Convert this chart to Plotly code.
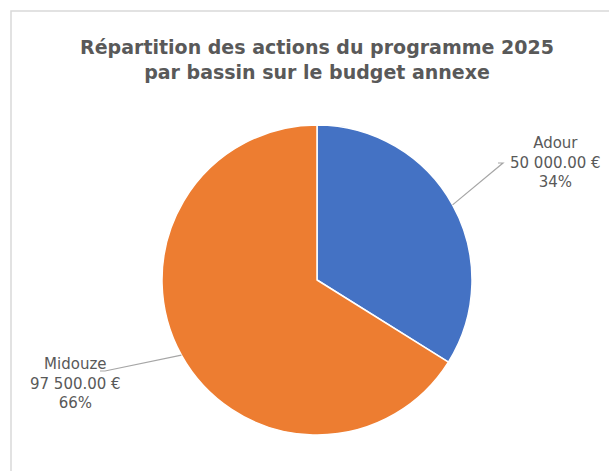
import math
import plotly.graph_objects as go

labels = ["Adour", "Midouze"]
values = [50000.00, 97500.00]
colors = ["#4472C4", "#ED7D31"]
value_text = ["50 000.00 €", "97 500.00 €"]

W, H = 609, 471
cx, cy, r = 317, 280, 155  # pie centre/radius in px (from top-left)

fig = go.Figure()
fig.add_trace(go.Pie(
    labels=labels, values=values, sort=False, direction="clockwise", rotation=0,
    marker=dict(colors=colors, line=dict(color="white", width=1.5)),
    textinfo="none", hoverinfo="label+value+percent", showlegend=False,
    domain=dict(x=[(cx - r) / W, (cx + r) / W], y=[(H - cy - r) / H, (H - cy + r) / H]),
))

def px(x):
    return x / W

def py(y):
    return 1 - y / H

total = sum(values)
label_pos = [(555, 163, 503, 163), (75, 383, 105, 371)]  # text centre, elbow
shapes = []
annotations = []
cum = 0
for i, v in enumerate(values):
    frac = v / total
    mid = (cum + frac / 2) * 2 * math.pi
    cum += frac
    ex = cx + r * math.sin(mid)
    ey = cy - r * math.cos(mid)
    tx, ty, bx, by = label_pos[i]
    end_x = bx - 5
    shapes.append(dict(type="path", xref="paper", yref="paper",
                       path=f"M {px(ex)},{py(ey)} L {px(bx)},{py(by)} L {px(end_x)},{py(by)}",
                       line=dict(color="#A6A6A6", width=1.2)))
    pct = round(frac * 100)
    annotations.append(dict(
        x=px(tx), y=py(ty), xref="paper", yref="paper", showarrow=False,
        text=f"{labels[i]}<br>{value_text[i]}<br>{pct}%",
        font=dict(family="DejaVu Sans", size=15, color="#595959"),
        align="center", xanchor="center", yanchor="middle",
    ))

shapes.append(dict(type="rect", xref="paper", yref="paper",
                   x0=px(11), y0=py(480), x1=px(620), y1=py(11),
                   line=dict(color="#D9D9D9", width=1.5), fillcolor="rgba(0,0,0,0)"))

fig.update_layout(
    width=W, height=H,
    margin=dict(l=0, r=0, t=0, b=0),
    paper_bgcolor="white", plot_bgcolor="white",
    title=dict(text="<b>Répartition des actions du programme 2025<br>par bassin sur le budget annexe</b>",
               x=317 / W, xanchor="center", y=py(54), yanchor="middle",
               font=dict(family="DejaVu Sans", size=19, color="#595959")),
    shapes=shapes, annotations=annotations,
)

fig.write_html("out.html", config={"displayModeBar": False},
               post_script="document.body.style.margin='0';")
